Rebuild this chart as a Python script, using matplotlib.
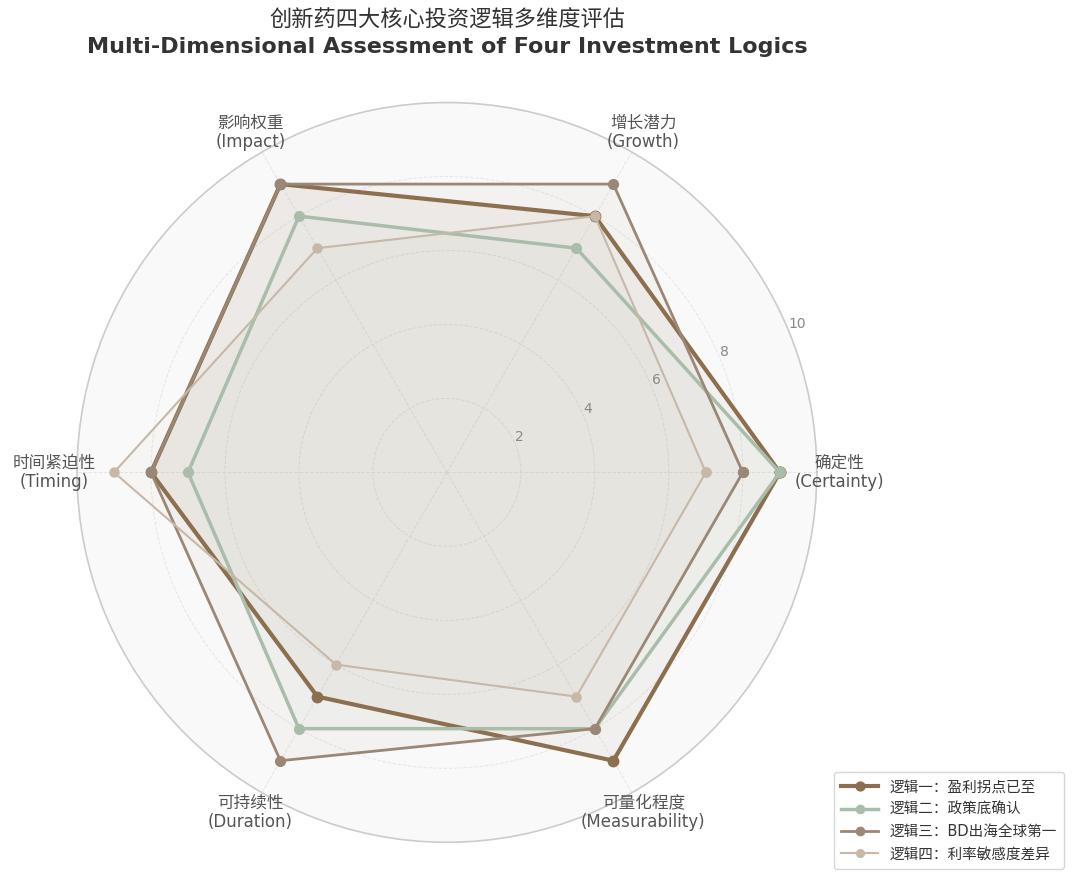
import numpy as np
import matplotlib
matplotlib.use('Agg')
from matplotlib import pyplot as plt

plt.rcParams['font.family'] = ['DejaVu Sans', 'Noto Sans CJK SC']

# dimensions, clockwise from the right
dims = ['确定性\n(Certainty)', '增长潜力\n(Growth)', '影响权重\n(Impact)',
        '时间紧迫性\n(Timing)', '可持续性\n(Duration)', '可量化程度\n(Measurability)']

names = ['逻辑一：盈利拐点已至', '逻辑二：政策底确认',
         '逻辑三：BD出海全球第一', '逻辑四：利率敏感度差异']
logic1 = [9, 8, 9, 8, 7, 9]
logic2 = [9, 7, 8, 7, 8, 8]
logic3 = [8, 9, 9, 8, 9, 8]
logic4 = [7, 8, 7, 9, 6, 7]
series = [logic1, logic2, logic3, logic4]

colors = ['#8B6F4E', '#A9BDAA', '#9A8776', '#C7B8A8']
widths = [3, 2.5, 2, 1.5]
msizes = [7.5, 7, 7, 6.5]

n = len(dims)
angles = np.linspace(0, 2 * np.pi, n, endpoint=False)
ang_closed = np.concatenate([angles, angles[:1]])

fig = plt.figure(figsize=(10.8, 8.83), dpi=100)
ax = fig.add_axes([0.0713, 0.046, 0.685, 0.838], projection='polar')
ax.set_facecolor('#F9F9F9')

for vals, name, c, lw, ms in zip(series, names, colors, widths, msizes):
    v = np.concatenate([vals, vals[:1]])
    ax.plot(ang_closed, v, color=c, linewidth=lw, marker='o', markersize=ms,
            label=name, zorder=3)
    ax.fill(ang_closed, v, color=c, alpha=0.06, zorder=2)

ax.set_ylim(0, 10)
ax.set_yticks([2, 4, 6, 8, 10])
ax.set_yticklabels(['2', '4', '6', '8', '10'], color='#888888', fontsize=10)
ax.set_rlabel_position(22.5)
ax.set_xticks(angles)
ax.set_xticklabels([])
ax.grid(color='#E6E6E6', linestyle='--', linewidth=0.7)
ax.spines['polar'].set_color('#CCCCCC')
ax.spines['polar'].set_linewidth(1.2)

for a, lab in zip(angles, dims):
    ax.text(a, 10.62, lab, ha='center', va='center', fontsize=12,
            color='#555555', linespacing=1.1)

fig.text(0.414, 0.977, '创新药四大核心投资逻辑多维度评估', ha='center', va='center',
         fontsize=16, color='#333333')
fig.text(0.414, 0.947, 'Multi-Dimensional Assessment of Four Investment Logics',
         ha='center', va='center', fontsize=16, fontweight='bold', color='#333333')

fig.legend(loc='lower right', bbox_to_anchor=(0.992, 0.008), fontsize=10.5,
           frameon=True, edgecolor='#CCCCCC', labelcolor='#333333',
           handlelength=2.5, borderpad=0.5, labelspacing=0.5, markerscale=0.85)

fig.savefig('out.png', dpi=100, facecolor='white')
